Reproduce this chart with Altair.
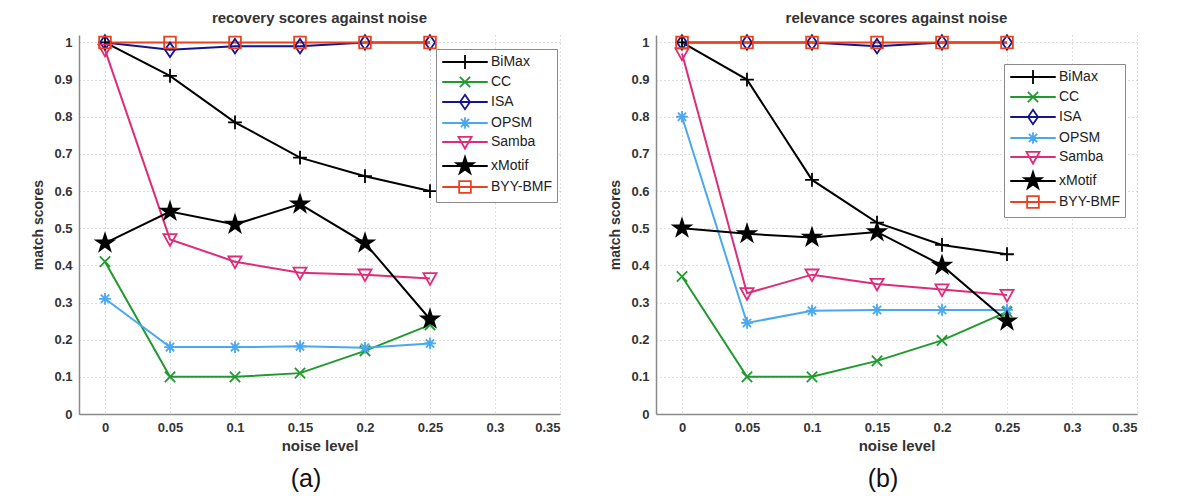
import altair as alt
import pandas as pd

# ---------------- data ----------------
noise = [0, 0.05, 0.1, 0.15, 0.2, 0.25]
series = ["BiMax", "CC", "ISA", "OPSM", "Samba", "xMotif", "BYY-BMF"]

# (a) recovery scores
rec_bimax = [1.0, 0.91, 0.785, 0.69, 0.64, 0.60]
rec_cc = [0.41, 0.10, 0.10, 0.11, 0.17, 0.24]
rec_isa = [1.0, 0.98, 0.99, 0.99, 1.0, 1.0]
rec_opsm = [0.31, 0.18, 0.18, 0.182, 0.178, 0.19]
rec_samba = [0.98, 0.47, 0.41, 0.38, 0.375, 0.365]
rec_xmotif = [0.46, 0.545, 0.51, 0.565, 0.46, 0.255]
rec_byy = [1.0, 1.0, 1.0, 1.0, 1.0, 1.0]

# (b) relevance scores
rel_bimax = [1.0, 0.90, 0.63, 0.515, 0.455, 0.43]
rel_cc = [0.37, 0.10, 0.10, 0.143, 0.198, 0.275]
rel_isa = [1.0, 1.0, 1.0, 0.99, 1.0, 1.0]
rel_opsm = [0.80, 0.245, 0.278, 0.28, 0.28, 0.28]
rel_samba = [0.97, 0.325, 0.375, 0.35, 0.335, 0.32]
rel_xmotif = [0.50, 0.485, 0.475, 0.49, 0.40, 0.25]
rel_byy = [1.0, 1.0, 1.0, 1.0, 1.0, 1.0]

x_ticks = [0, 0.05, 0.1, 0.15, 0.2, 0.25, 0.3, 0.35]
y_ticks = [0, 0.1, 0.2, 0.3, 0.4, 0.5, 0.6, 0.7, 0.8, 0.9, 1.0]

colors = ["#000000", "#1f9a2e", "#14148c", "#4aa8f0", "#de2c7a", "#000000", "#ea4220"]
fills = ["transparent", "transparent", "transparent", "transparent", "transparent", "#000000", "transparent"]

# marker paths (unit box ~[-1,1])
m_plus = "M-1,0H1M0,-1V1"
m_x = "M-0.75,-0.75L0.75,0.75M-0.75,0.75L0.75,-0.75"
m_diamond = "M0,-1.05L0.72,0L0,1.05L-0.72,0Z"
m_aster = "M0,-0.85V0.85M-0.85,0H0.85M-0.6,-0.6L0.6,0.6M-0.6,0.6L0.6,-0.6"
m_tri = "M-0.95,-0.75H0.95L0,0.95Z"
star_pts = [(0, -1.3), (0.29, -0.4), (1.24, -0.4), (0.47, 0.15), (0.76, 1.05), (0, 0.5),
            (-0.76, 1.05), (-0.47, 0.15), (-1.24, -0.4), (-0.29, -0.4)]


def star_path(k):
    return "M" + "L".join(f"{px * k:.3f},{py * k:.3f}" for px, py in star_pts) + "Z"


m_star = star_path(1.0)
m_star_solid = "".join(star_path(k) for k in (1.0, 0.78, 0.56, 0.34, 0.12))
m_square = "M-0.85,-0.85H0.85V0.85H-0.85Z"
plot_shapes = [m_plus, m_x, m_diamond, m_aster, m_tri, m_star, m_square]
seg = "M-3.3,0H3.3"
legend_shapes = [seg + s for s in [m_plus, m_x, m_diamond, m_aster, m_tri, m_star_solid, m_square]]


def make_df(vals):
    rows = []
    for name, ys in zip(series, vals):
        for xv, yv in zip(noise, ys):
            rows.append({"series": name, "noise": xv, "score": yv})
    return pd.DataFrame(rows)


df_a = make_df([rec_bimax, rec_cc, rec_isa, rec_opsm, rec_samba, rec_xmotif, rec_byy])
df_b = make_df([rel_bimax, rel_cc, rel_isa, rel_opsm, rel_samba, rel_xmotif, rel_byy])

FONT = "Liberation Sans"
W, H = 481, 379


def panel(df, title, lx, ly, tag):
    base = alt.Chart(df)
    xenc = alt.X("noise:Q",
                 scale=alt.Scale(domain=[-0.02, 0.35], nice=False, zero=False),
                 axis=alt.Axis(values=x_ticks, format="~g", title="noise level"))
    yenc = alt.Y("score:Q",
                 scale=alt.Scale(domain=[0, 1.02], nice=False),
                 axis=alt.Axis(values=y_ticks, format="~g", title="match scores"))
    cscale = alt.Scale(domain=series, range=colors)
    fscale = alt.Scale(domain=series, range=fills)

    lines = base.mark_line(strokeWidth=2).encode(
        x=xenc, y=yenc,
        color=alt.Color("series:N", scale=cscale, legend=None),
    )
    pts = base.mark_point(filled=True, strokeWidth=1.8, opacity=1).encode(
        x=xenc, y=yenc,
        stroke=alt.Stroke("series:N", scale=cscale, legend=None),
        fill=alt.Fill("series:N", scale=fscale, legend=None),
        shape=alt.Shape("series:N", scale=alt.Scale(domain=series, range=plot_shapes), legend=None),
        size=alt.value(190),
    )
    leg = alt.Legend(orient="none", legendX=lx, legendY=ly, title=None,
                     strokeColor="#8a8a8a", fillColor="white", padding=5,
                     rowPadding=0, symbolSize=190, symbolOffset=16,
                     labelOffset=18, labelFont=FONT, labelFontSize=14,
                     labelColor="#222222", symbolStrokeWidth=1.8)
    legend_layer = base.mark_point(filled=True, strokeWidth=1.8, opacity=0).encode(
        x=xenc, y=yenc,
        stroke=alt.Stroke("series:N", scale=cscale, legend=leg),
        fill=alt.Fill("series:N", scale=fscale, legend=leg),
        shape=alt.Shape("series:N", scale=alt.Scale(domain=series, range=legend_shapes), legend=leg),
        size=alt.value(190),
    )
    layered = alt.layer(lines, pts, legend_layer).resolve_scale(
        color="independent", stroke="independent", fill="independent", shape="independent"
    ).properties(
        width=W, height=H,
        title=alt.TitleParams(title, font=FONT, fontSize=15, fontWeight="bold",
                              color="#333333", offset=6),
    )
    return alt.vconcat(layered, title=alt.TitleParams(
        tag, orient="bottom", anchor="middle", font=FONT, fontSize=25,
        fontWeight="normal", color="#111111", offset=14, dx=10))


pa = panel(df_a, "recovery scores against noise", 357, 14, "(a)")
pb = panel(df_b, "relevance scores against noise", 348, 29, "(b)")

chart = alt.hconcat(pa, pb, spacing=48).properties(
    padding={"left": 23, "top": 2, "right": 5, "bottom": 0},
    background="white",
).configure_view(stroke=None).configure_axis(
    labelFont=FONT, labelFontSize=13, labelColor="#333333", labelFontWeight="bold",
    titleFont=FONT, titleFontSize=14, titleColor="#333333", titleFontWeight="bold",
    domainColor="#8a8a8a", domainWidth=1.5, ticks=False, labelPadding=7,
    gridColor="#bdbdbd", gridDash=[1, 3], gridWidth=1,
).configure_axisX(titlePadding=4, titleFontSize=15).configure_axisY(titlePadding=8)

chart.save("out.html", embed_options={"renderer": "svg", "actions": False})
